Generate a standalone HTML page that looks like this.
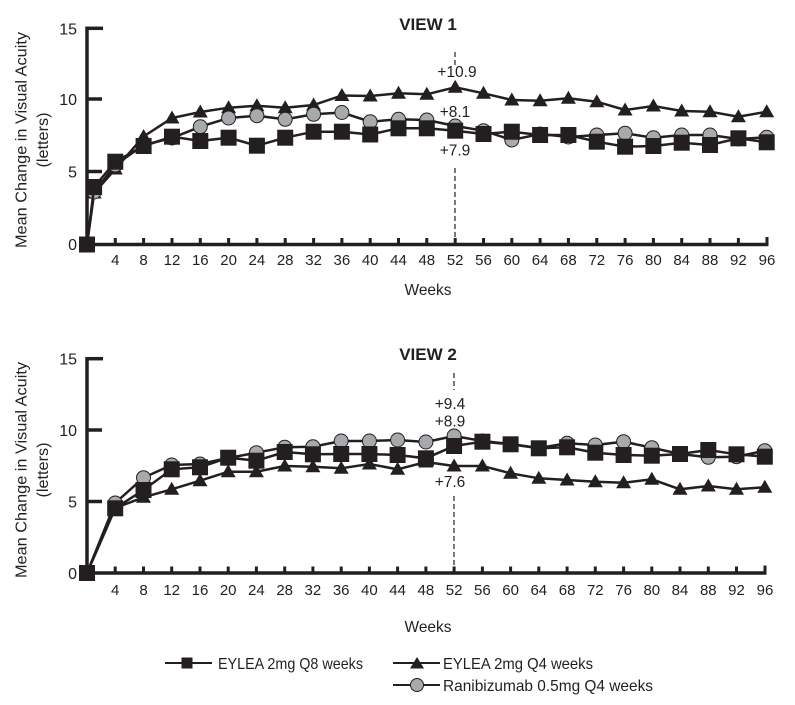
<!DOCTYPE html>
<html><head><meta charset="utf-8"><style>
html,body{margin:0;padding:0;background:#fff;}
svg{display:block;}
text{font-family:"Liberation Sans",Arial,sans-serif;fill:#231f20;}
</style></head><body>
<svg width="795" height="705" viewBox="0 0 795 705" xmlns="http://www.w3.org/2000/svg">
<defs>
<rect id="sq" x="-8" y="-8" width="16" height="16" fill="#231f20"/>
<path id="tr" d="M0,-7.5 L7.5,5.5 L-7.5,5.5 Z" fill="#231f20"/>
<circle id="ci" r="7" fill="#a7a9ac" stroke="#231f20" stroke-width="1"/>
</defs>

<!-- ============ VIEW 1 ============ -->
<text x="428" y="30" font-size="17" font-weight="bold" text-anchor="middle">VIEW 1</text>
<!-- dashed line -->
<line x1="455" y1="52" x2="455" y2="66" stroke="#231f20" stroke-width="1.2" stroke-dasharray="5,3"/>
<line x1="455" y1="168" x2="455" y2="244" stroke="#231f20" stroke-width="1.2" stroke-dasharray="5,3"/>
<!-- axes -->
<g stroke="#231f20" stroke-width="3.5" fill="none">
<line x1="87" y1="26.5" x2="87" y2="246.5"/>
<line x1="85.5" y1="244.5" x2="768.5" y2="244.5"/>
<line x1="87" y1="28.3" x2="103" y2="28.3"/>
<line x1="87" y1="99" x2="102" y2="99"/>
<line x1="87" y1="171.5" x2="102" y2="171.5"/>
</g>
<g stroke="#231f20" stroke-width="3">
<line x1="115.3" y1="244" x2="115.3" y2="238"/><line x1="143.6" y1="244" x2="143.6" y2="238"/><line x1="172" y1="244" x2="172" y2="238"/><line x1="200.3" y1="244" x2="200.3" y2="238"/><line x1="228.6" y1="244" x2="228.6" y2="238"/><line x1="256.9" y1="244" x2="256.9" y2="238"/><line x1="285.2" y1="244" x2="285.2" y2="238"/><line x1="313.6" y1="244" x2="313.6" y2="238"/><line x1="341.9" y1="244" x2="341.9" y2="238"/><line x1="370.2" y1="244" x2="370.2" y2="238"/><line x1="398.5" y1="244" x2="398.5" y2="238"/><line x1="426.8" y1="244" x2="426.8" y2="238"/><line x1="455.2" y1="244" x2="455.2" y2="238"/><line x1="483.5" y1="244" x2="483.5" y2="238"/><line x1="511.8" y1="244" x2="511.8" y2="238"/><line x1="540.1" y1="244" x2="540.1" y2="238"/><line x1="568.4" y1="244" x2="568.4" y2="238"/><line x1="596.8" y1="244" x2="596.8" y2="238"/><line x1="625.1" y1="244" x2="625.1" y2="238"/><line x1="653.4" y1="244" x2="653.4" y2="238"/><line x1="681.7" y1="244" x2="681.7" y2="238"/><line x1="710" y1="244" x2="710" y2="238"/><line x1="738.4" y1="244" x2="738.4" y2="238"/><line x1="767" y1="244" x2="767" y2="237"/>
</g>
<!-- tick labels -->
<g font-size="16" text-anchor="end">
<text x="77" y="34.5">15</text><text x="77" y="105">10</text><text x="77" y="177.5">5</text><text x="77" y="250">0</text>
</g>
<g font-size="15" text-anchor="middle">
<text x="115.3" y="265">4</text><text x="143.6" y="265">8</text><text x="172" y="265">12</text><text x="200.3" y="265">16</text><text x="228.6" y="265">20</text><text x="256.9" y="265">24</text><text x="285.2" y="265">28</text><text x="313.6" y="265">32</text><text x="341.9" y="265">36</text><text x="370.2" y="265">40</text><text x="398.5" y="265">44</text><text x="426.8" y="265">48</text><text x="455.2" y="265">52</text><text x="483.5" y="265">56</text><text x="511.8" y="265">60</text><text x="540.1" y="265">64</text><text x="568.4" y="265">68</text><text x="596.8" y="265">72</text><text x="625.1" y="265">76</text><text x="653.4" y="265">80</text><text x="681.7" y="265">84</text><text x="710" y="265">88</text><text x="738.4" y="265">92</text><text x="767" y="265">96</text>
</g>
<text x="428" y="295" font-size="16" text-anchor="middle" textLength="47" lengthAdjust="spacingAndGlyphs">Weeks</text>
<text transform="translate(26.5,140) rotate(-90)" font-size="16" text-anchor="middle" textLength="216" lengthAdjust="spacingAndGlyphs">Mean Change in Visual Acuity</text>
<text transform="translate(48,140) rotate(-90)" font-size="16" text-anchor="middle" textLength="55" lengthAdjust="spacingAndGlyphs">(letters)</text>
<!-- annotations -->
<g font-size="15.5" text-anchor="middle">
<text x="457" y="77">+10.9</text>
<text x="455" y="117">+8.1</text>
<text x="455" y="155.5">+7.9</text>
</g>
<!-- series: triangle -->
<polyline fill="none" stroke="#231f20" stroke-width="2.5" points="87,244.5 94.1,193 115.3,169 143.6,136.5 172,118 200.3,112 228.6,107.7 256.9,105.7 285.2,107.7 313.6,105 341.9,95.5 370.2,96 398.5,93.3 426.8,94.3 455.2,87.3 483.5,93.3 511.8,100 540.1,100.7 568.4,98.3 596.8,101.7 625.1,110 653.4,106 681.7,111 710,111.7 738.4,116.7 766.7,111.7"/>
<g>
<use href="#tr" x="94.1" y="193"/><use href="#tr" x="115.3" y="169"/><use href="#tr" x="143.6" y="136.5"/><use href="#tr" x="172" y="118"/><use href="#tr" x="200.3" y="112"/><use href="#tr" x="228.6" y="107.7"/><use href="#tr" x="256.9" y="105.7"/><use href="#tr" x="285.2" y="107.7"/><use href="#tr" x="313.6" y="105"/><use href="#tr" x="341.9" y="95.5"/><use href="#tr" x="370.2" y="96"/><use href="#tr" x="398.5" y="93.3"/><use href="#tr" x="426.8" y="94.3"/><use href="#tr" x="455.2" y="87.3"/><use href="#tr" x="483.5" y="93.3"/><use href="#tr" x="511.8" y="100"/><use href="#tr" x="540.1" y="100.7"/><use href="#tr" x="568.4" y="98.3"/><use href="#tr" x="596.8" y="101.7"/><use href="#tr" x="625.1" y="110"/><use href="#tr" x="653.4" y="106"/><use href="#tr" x="681.7" y="111"/><use href="#tr" x="710" y="111.7"/><use href="#tr" x="738.4" y="116.7"/><use href="#tr" x="766.7" y="111.7"/>
</g>
<!-- series: circle -->
<polyline fill="none" stroke="#231f20" stroke-width="2.5" points="87,244.5 94.1,192 115.3,165 143.6,145 172,138 200.3,126.7 228.6,118 256.9,115.7 285.2,119.3 313.6,114.3 341.9,112.5 370.2,121.7 398.5,119.3 426.8,120 455.2,126 483.5,130.7 511.8,140 540.1,134 568.4,137 596.8,135 625.1,133.3 653.4,137.7 681.7,135 710,135 738.4,139 766.7,137.3"/>
<g>
<use href="#ci" x="94.1" y="192"/><use href="#ci" x="115.3" y="165"/><use href="#ci" x="143.6" y="145"/><use href="#ci" x="172" y="138"/><use href="#ci" x="200.3" y="126.7"/><use href="#ci" x="228.6" y="118"/><use href="#ci" x="256.9" y="115.7"/><use href="#ci" x="285.2" y="119.3"/><use href="#ci" x="313.6" y="114.3"/><use href="#ci" x="341.9" y="112.5"/><use href="#ci" x="370.2" y="121.7"/><use href="#ci" x="398.5" y="119.3"/><use href="#ci" x="426.8" y="120"/><use href="#ci" x="455.2" y="126"/><use href="#ci" x="483.5" y="130.7"/><use href="#ci" x="511.8" y="140"/><use href="#ci" x="540.1" y="134"/><use href="#ci" x="568.4" y="137"/><use href="#ci" x="596.8" y="135"/><use href="#ci" x="625.1" y="133.3"/><use href="#ci" x="653.4" y="137.7"/><use href="#ci" x="681.7" y="135"/><use href="#ci" x="710" y="135"/><use href="#ci" x="738.4" y="139"/><use href="#ci" x="766.7" y="137.3"/>
</g>
<!-- series: square -->
<polyline fill="none" stroke="#231f20" stroke-width="2.5" points="87,244.5 94.1,187 115.3,161.7 143.6,146 172,136.7 200.3,141 228.6,137.7 256.9,145.7 285.2,137.7 313.6,131.7 341.9,131.7 370.2,134.5 398.5,128.3 426.8,128.3 455.2,130.7 483.5,134 511.8,131.7 540.1,135 568.4,135 596.8,141.7 625.1,146.7 653.4,146 681.7,142.7 710,145 738.4,138.3 766.7,142.3"/>
<g>
<use href="#sq" x="87" y="244.5"/><use href="#sq" x="94.1" y="187"/><use href="#sq" x="115.3" y="161.7"/><use href="#sq" x="143.6" y="146"/><use href="#sq" x="172" y="136.7"/><use href="#sq" x="200.3" y="141"/><use href="#sq" x="228.6" y="137.7"/><use href="#sq" x="256.9" y="145.7"/><use href="#sq" x="285.2" y="137.7"/><use href="#sq" x="313.6" y="131.7"/><use href="#sq" x="341.9" y="131.7"/><use href="#sq" x="370.2" y="134.5"/><use href="#sq" x="398.5" y="128.3"/><use href="#sq" x="426.8" y="128.3"/><use href="#sq" x="455.2" y="130.7"/><use href="#sq" x="483.5" y="134"/><use href="#sq" x="511.8" y="131.7"/><use href="#sq" x="540.1" y="135"/><use href="#sq" x="568.4" y="135"/><use href="#sq" x="596.8" y="141.7"/><use href="#sq" x="625.1" y="146.7"/><use href="#sq" x="653.4" y="146"/><use href="#sq" x="681.7" y="142.7"/><use href="#sq" x="710" y="145"/><use href="#sq" x="738.4" y="138.3"/><use href="#sq" x="766.7" y="142.3"/>
</g>

<!-- ============ VIEW 2 ============ -->
<text x="428" y="360" font-size="17" font-weight="bold" text-anchor="middle">VIEW 2</text>
<line x1="454" y1="373" x2="454" y2="390" stroke="#231f20" stroke-width="1.2" stroke-dasharray="5,3"/>
<line x1="454" y1="496" x2="454" y2="572" stroke="#231f20" stroke-width="1.2" stroke-dasharray="5,3"/>
<g stroke="#231f20" stroke-width="3.5" fill="none">
<line x1="87" y1="357" x2="87" y2="575"/>
<line x1="85.5" y1="573" x2="766.5" y2="573"/>
<line x1="87" y1="358.7" x2="103" y2="358.7"/>
<line x1="87" y1="430" x2="102" y2="430"/>
<line x1="87" y1="501.5" x2="102" y2="501.5"/>
</g>
<g stroke="#231f20" stroke-width="3">
<line x1="115.2" y1="572.5" x2="115.2" y2="566.5"/><line x1="143.5" y1="572.5" x2="143.5" y2="566.5"/><line x1="171.7" y1="572.5" x2="171.7" y2="566.5"/><line x1="200" y1="572.5" x2="200" y2="566.5"/><line x1="228.2" y1="572.5" x2="228.2" y2="566.5"/><line x1="256.4" y1="572.5" x2="256.4" y2="566.5"/><line x1="284.7" y1="572.5" x2="284.7" y2="566.5"/><line x1="312.9" y1="572.5" x2="312.9" y2="566.5"/><line x1="341.2" y1="572.5" x2="341.2" y2="566.5"/><line x1="369.4" y1="572.5" x2="369.4" y2="566.5"/><line x1="397.6" y1="572.5" x2="397.6" y2="566.5"/><line x1="425.9" y1="572.5" x2="425.9" y2="566.5"/><line x1="454.1" y1="572.5" x2="454.1" y2="566.5"/><line x1="482.4" y1="572.5" x2="482.4" y2="566.5"/><line x1="510.6" y1="572.5" x2="510.6" y2="566.5"/><line x1="538.8" y1="572.5" x2="538.8" y2="566.5"/><line x1="567.1" y1="572.5" x2="567.1" y2="566.5"/><line x1="595.3" y1="572.5" x2="595.3" y2="566.5"/><line x1="623.6" y1="572.5" x2="623.6" y2="566.5"/><line x1="651.8" y1="572.5" x2="651.8" y2="566.5"/><line x1="680" y1="572.5" x2="680" y2="566.5"/><line x1="708.3" y1="572.5" x2="708.3" y2="566.5"/><line x1="736.5" y1="572.5" x2="736.5" y2="566.5"/><line x1="765" y1="572.5" x2="765" y2="565.5"/>
</g>
<g font-size="16" text-anchor="end">
<text x="77" y="364.5">15</text><text x="77" y="436">10</text><text x="77" y="507.5">5</text><text x="77" y="579">0</text>
</g>
<g font-size="15" text-anchor="middle">
<text x="115.2" y="595">4</text><text x="143.5" y="595">8</text><text x="171.7" y="595">12</text><text x="200" y="595">16</text><text x="228.2" y="595">20</text><text x="256.4" y="595">24</text><text x="284.7" y="595">28</text><text x="312.9" y="595">32</text><text x="341.2" y="595">36</text><text x="369.4" y="595">40</text><text x="397.6" y="595">44</text><text x="425.9" y="595">48</text><text x="454.1" y="595">52</text><text x="482.4" y="595">56</text><text x="510.6" y="595">60</text><text x="538.8" y="595">64</text><text x="567.1" y="595">68</text><text x="595.3" y="595">72</text><text x="623.6" y="595">76</text><text x="651.8" y="595">80</text><text x="680" y="595">84</text><text x="708.3" y="595">88</text><text x="736.5" y="595">92</text><text x="765" y="595">96</text>
</g>
<text x="428" y="632" font-size="16" text-anchor="middle" textLength="47" lengthAdjust="spacingAndGlyphs">Weeks</text>
<text transform="translate(26.5,470) rotate(-90)" font-size="16" text-anchor="middle" textLength="216" lengthAdjust="spacingAndGlyphs">Mean Change in Visual Acuity</text>
<text transform="translate(48,470) rotate(-90)" font-size="16" text-anchor="middle" textLength="55" lengthAdjust="spacingAndGlyphs">(letters)</text>
<g font-size="15.5" text-anchor="middle">
<text x="450" y="409">+9.4</text>
<text x="450" y="426.5">+8.9</text>
<text x="450" y="487">+7.6</text>
</g>
<!-- triangle -->
<polyline fill="none" stroke="#231f20" stroke-width="2.5" points="87,573 115.2,508 143.5,497.3 171.7,489.3 200,480.7 228.2,471.7 256.4,471.7 284.7,466 312.9,466.7 341.2,468.3 369.4,464 397.6,469.3 425.9,462 454.1,466 482.4,466 510.6,473.3 538.8,478.3 567.1,480 595.3,481.7 623.6,482.7 651.8,479.3 680,489.3 708.3,486 736.5,489.3 764.8,487.3"/>
<g>
<use href="#tr" x="115.2" y="508"/><use href="#tr" x="143.5" y="497.3"/><use href="#tr" x="171.7" y="489.3"/><use href="#tr" x="200" y="480.7"/><use href="#tr" x="228.2" y="471.7"/><use href="#tr" x="256.4" y="471.7"/><use href="#tr" x="284.7" y="466"/><use href="#tr" x="312.9" y="466.7"/><use href="#tr" x="341.2" y="468.3"/><use href="#tr" x="369.4" y="464"/><use href="#tr" x="397.6" y="469.3"/><use href="#tr" x="425.9" y="462"/><use href="#tr" x="454.1" y="466"/><use href="#tr" x="482.4" y="466"/><use href="#tr" x="510.6" y="473.3"/><use href="#tr" x="538.8" y="478.3"/><use href="#tr" x="567.1" y="480"/><use href="#tr" x="595.3" y="481.7"/><use href="#tr" x="623.6" y="482.7"/><use href="#tr" x="651.8" y="479.3"/><use href="#tr" x="680" y="489.3"/><use href="#tr" x="708.3" y="486"/><use href="#tr" x="736.5" y="489.3"/><use href="#tr" x="764.8" y="487.3"/>
</g>
<!-- circle -->
<polyline fill="none" stroke="#231f20" stroke-width="2.5" points="87,573 115.2,503 143.5,477.7 171.7,465 200,464 228.2,458 256.4,452.7 284.7,447.3 312.9,446.7 341.2,441 369.4,441 397.6,440 425.9,442 454.1,436 482.4,441 510.6,444 538.8,448 567.1,443.3 595.3,445 623.6,441.7 651.8,447.7 680,454 708.3,457.3 736.5,456.7 764.8,450.7"/>
<g>
<use href="#ci" x="115.2" y="503"/><use href="#ci" x="143.5" y="477.7"/><use href="#ci" x="171.7" y="465"/><use href="#ci" x="200" y="464"/><use href="#ci" x="228.2" y="458"/><use href="#ci" x="256.4" y="452.7"/><use href="#ci" x="284.7" y="447.3"/><use href="#ci" x="312.9" y="446.7"/><use href="#ci" x="341.2" y="441"/><use href="#ci" x="369.4" y="441"/><use href="#ci" x="397.6" y="440"/><use href="#ci" x="425.9" y="442"/><use href="#ci" x="454.1" y="436"/><use href="#ci" x="482.4" y="441"/><use href="#ci" x="510.6" y="444"/><use href="#ci" x="538.8" y="448"/><use href="#ci" x="567.1" y="443.3"/><use href="#ci" x="595.3" y="445"/><use href="#ci" x="623.6" y="441.7"/><use href="#ci" x="651.8" y="447.7"/><use href="#ci" x="680" y="454"/><use href="#ci" x="708.3" y="457.3"/><use href="#ci" x="736.5" y="456.7"/><use href="#ci" x="764.8" y="450.7"/>
</g>
<!-- square -->
<polyline fill="none" stroke="#231f20" stroke-width="2.5" points="87,573 115.2,508.3 143.5,490 171.7,469.3 200,467.3 228.2,457.7 256.4,460.7 284.7,452 312.9,454.3 341.2,454 369.4,454 397.6,455 425.9,458.3 454.1,446 482.4,441.7 510.6,444.3 538.8,448.3 567.1,447.3 595.3,452.7 623.6,455 651.8,455.7 680,454 708.3,450 736.5,454.3 764.8,456.7"/>
<g>
<use href="#sq" x="87" y="573"/><use href="#sq" x="115.2" y="508.3"/><use href="#sq" x="143.5" y="490"/><use href="#sq" x="171.7" y="469.3"/><use href="#sq" x="200" y="467.3"/><use href="#sq" x="228.2" y="457.7"/><use href="#sq" x="256.4" y="460.7"/><use href="#sq" x="284.7" y="452"/><use href="#sq" x="312.9" y="454.3"/><use href="#sq" x="341.2" y="454"/><use href="#sq" x="369.4" y="454"/><use href="#sq" x="397.6" y="455"/><use href="#sq" x="425.9" y="458.3"/><use href="#sq" x="454.1" y="446"/><use href="#sq" x="482.4" y="441.7"/><use href="#sq" x="510.6" y="444.3"/><use href="#sq" x="538.8" y="448.3"/><use href="#sq" x="567.1" y="447.3"/><use href="#sq" x="595.3" y="452.7"/><use href="#sq" x="623.6" y="455"/><use href="#sq" x="651.8" y="455.7"/><use href="#sq" x="680" y="454"/><use href="#sq" x="708.3" y="450"/><use href="#sq" x="736.5" y="454.3"/><use href="#sq" x="764.8" y="456.7"/>
</g>

<!-- ============ LEGEND ============ -->
<g stroke="#231f20" stroke-width="2">
<line x1="165" y1="663" x2="212" y2="663"/>
<line x1="393" y1="663" x2="440" y2="663"/>
<line x1="393" y1="685" x2="440" y2="685"/>
</g>
<rect x="181.5" y="657.5" width="11" height="11" fill="#231f20"/>
<path d="M417,657 L424,668.5 L410,668.5 Z" fill="#231f20"/>
<circle cx="417" cy="685" r="6.5" fill="#a7a9ac" stroke="#231f20" stroke-width="1"/>
<g font-size="16">
<text x="218" y="669" textLength="145" lengthAdjust="spacingAndGlyphs">EYLEA 2mg Q8 weeks</text>
<text x="443" y="669" textLength="150" lengthAdjust="spacingAndGlyphs">EYLEA 2mg Q4 weeks</text>
<text x="443" y="691" textLength="210" lengthAdjust="spacingAndGlyphs">Ranibizumab 0.5mg Q4 weeks</text>
</g>
</svg>
</body></html>
